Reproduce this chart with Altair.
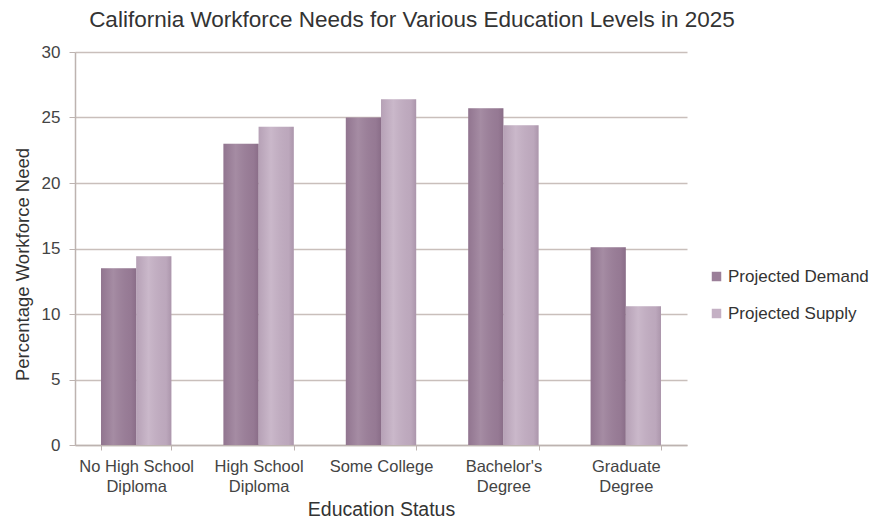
import altair as alt
import pandas as pd

categories = ["No High School|Diploma", "High School|Diploma", "Some College", "Bachelor's|Degree", "Graduate|Degree"]
demand = [13.5, 23.0, 25.0, 25.7, 15.1]
supply = [14.4, 24.3, 26.4, 24.4, 10.6]
series = ["Projected Demand", "Projected Supply"]
colors = ["#9b7f99", "#c4b0c4"]

rows = []
for c, d, s in zip(categories, demand, supply):
    rows.append({"cat": c, "series": series[0], "value": d})
    rows.append({"cat": c, "series": series[1], "value": s})
df = pd.DataFrame(rows)

font = "Liberation Sans"

x_enc = alt.X("cat:N", sort=categories, title="Education Status",
              scale=alt.Scale(paddingInner=0.425, paddingOuter=0.2125),
              axis=alt.Axis(labelAngle=0, labelExpr="split(datum.label, '|')",
                            tickBand="extent", tickSize=5, tickColor="#bdb3b0",
                            domainColor="#bdb3b0", domainWidth=1.5, labelFontSize=16.5,
                            labelColor="#444444", labelFont=font, titleFont=font,
                            titleFontSize=19.5, titleFontWeight="normal", titleColor="#333333",
                            labelPadding=8, titlePadding=6, grid=False, labelLineHeight=20))
xo_enc = alt.XOffset("series:N", sort=series)
y_enc = alt.Y("value:Q", title="Percentage Workforce Need",
              scale=alt.Scale(domain=[0, 30]),
              axis=alt.Axis(values=[0, 5, 10, 15, 20, 25, 30], tickSize=6, tickColor="#bdb3b0",
                            domainColor="#bdb3b0", domainWidth=1.5, gridColor="#c9bfbb",
                            gridWidth=1.6, labelFontSize=17, labelColor="#444444",
                            labelFont=font, titleFont=font, titleFontSize=18.5,
                            titleFontWeight="normal", titleColor="#333333",
                            labelPadding=9, titlePadding=9, titleY=212))

base = alt.Chart(df).mark_bar().encode(
    x=x_enc, xOffset=xo_enc, y=y_enc,
    color=alt.Color("series:N", sort=series, scale=alt.Scale(domain=series, range=colors),
                    legend=alt.Legend(title=None, orient="none", legendX=633, legendY=216,
                                      symbolType="square", symbolSize=90, labelFontSize=17,
                                      labelFont=font, labelColor="#333333", rowPadding=19,
                                      labelOffset=3, symbolStrokeWidth=0)),
)

shade = alt.Chart(df).mark_bar(
    color=alt.Gradient(
        gradient="linear", x1=0, x2=1, y1=0, y2=0,
        stops=[alt.GradientStop(offset=0, color="rgba(60,30,60,0.10)"),
               alt.GradientStop(offset=0.35, color="rgba(255,255,255,0.10)"),
               alt.GradientStop(offset=0.85, color="rgba(60,30,60,0.06)"),
               alt.GradientStop(offset=1, color="rgba(60,30,60,0.18)")])
).encode(x=x_enc, xOffset=xo_enc, y=y_enc)

chart = alt.layer(base, shade).properties(
    width=612, height=393,
    title=alt.TitleParams("California Workforce Needs for Various Education Levels in 2025",
                          font=font, fontSize=22.5, fontWeight="normal", color="#333333",
                          offset=12, dx=31),
    autosize=alt.AutoSizeParams(type="none"),
    padding={"left": 67, "top": 44, "right": 187, "bottom": 74},
).configure_view(stroke=None)

chart.save("out.html", embed_options={"renderer": "svg", "actions": False})
